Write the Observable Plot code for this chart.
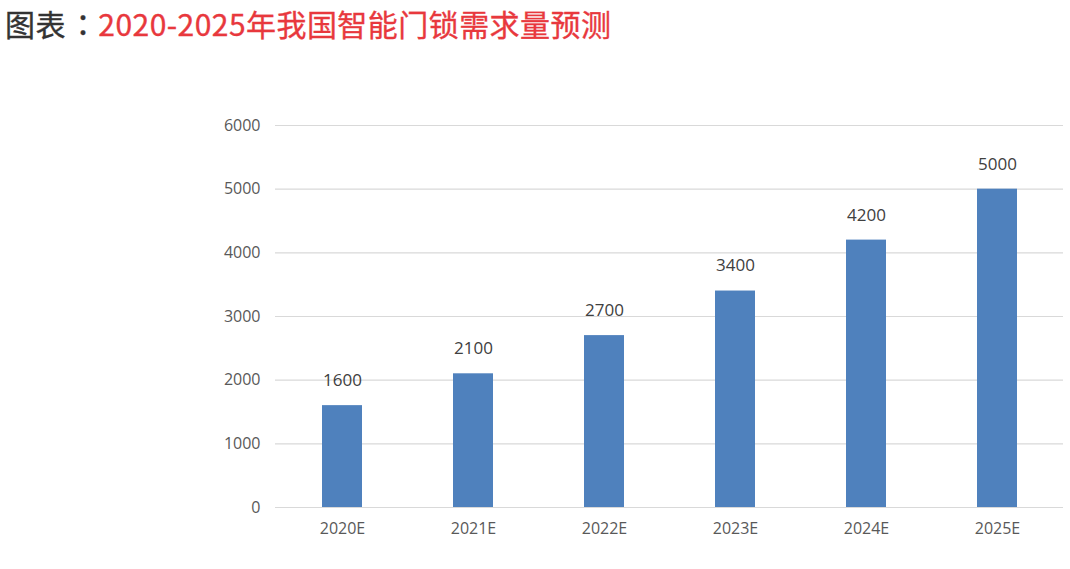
<!DOCTYPE html>
<html><head><meta charset="utf-8">
<script src="https://cdn.jsdelivr.net/npm/d3@7"></script>
<script src="https://cdn.jsdelivr.net/npm/@observablehq/plot@0.6"></script>
<style>
body{margin:0;background:#fff;width:1070px;height:569px;overflow:hidden;}
#title{height:50px;line-height:46px;padding-left:5px;font-family:"Noto Sans CJK SC",sans-serif;font-size:30px;font-weight:400;letter-spacing:0.45px;-webkit-text-stroke:0.35px currentColor;color:#333;white-space:nowrap;}
#title .c{font-family:"Noto Sans CJK TC",sans-serif;padding-left:2px;}
#title span.r{color:#e8383d;}
svg{display:block;}
</style></head><body>
<div id="title">图表<span class="c">：</span><span class="r">2020-2025年我国智能门锁需求量预测</span></div>
<div id="chart"></div>
<script>
const years = ["2020E","2021E","2022E","2023E","2024E","2025E"];
const demand = [1600,2100,2700,3400,4200,5000];
const yTicks = [0,1000,2000,3000,4000,5000,6000];
const data = years.map((y,i)=>({year:y, value:demand[i]}));
const chart = Plot.plot({
  width:1070, height:519,
  marginTop:75, marginBottom:62, marginLeft:275, marginRight:7,
  style:{fontFamily:"'Open Sans','Noto Sans',sans-serif", fontSize:"16px", color:"#595959", background:"#fff"},
  x:{domain:years, paddingInner:0.695, paddingOuter:0.3475, label:null, tickSize:0, tickPadding:15},
  y:{domain:[0,6000], ticks:yTicks, tickFormat:d=>String(d), label:null, tickSize:0, tickPadding:15},
  marks:[
    Plot.ruleY(yTicks,{stroke:"#d9d9d9", strokeWidth:1.2}),
    Plot.barY(data,{x:"year", y:"value", fill:"#4f81bd"}),
    Plot.text(data,{x:"year", y:"value", text:d=>String(d.value), dy:-25, fill:"#404040", fontSize:17})
  ]
});
document.getElementById("chart").appendChild(chart);
</script>
</body></html>
